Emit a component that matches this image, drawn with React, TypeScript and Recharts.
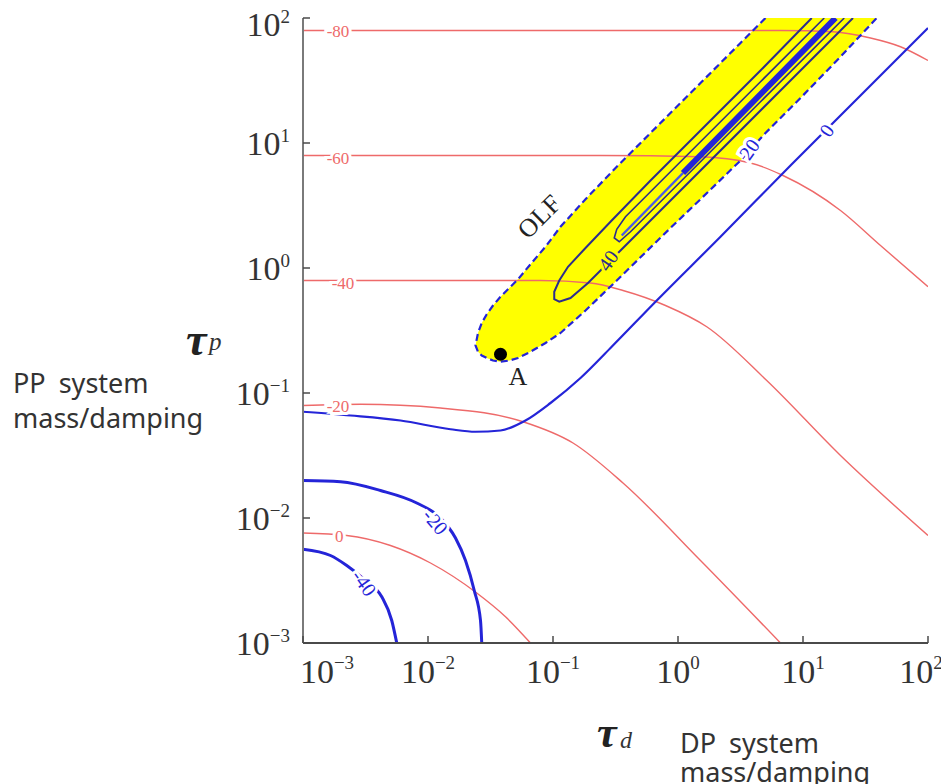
import React from 'react';
import { ComposedChart, XAxis, YAxis, Line, Area, Scatter } from 'recharts';

type Pt = [number, number];

// all values are log10(tau)
const decades = [-3, -2, -1, 0, 1, 2];

// red contours (dB), [log10 td, log10 tp]
const red0: Pt[] = [[-3, -2.12], [-2.65, -2.14], [-2.3, -2.22], [-1.98, -2.36], [-1.61, -2.6], [-1.38, -2.79], [-1.18, -3]];
const redM20: Pt[] = [[-3, -1.1], [-2.54, -1.09], [-1.9, -1.12], [-1.24, -1.23], [-0.84, -1.4], [-0.44, -1.72], [0.18, -2.34], [0.82, -3]];
const redM40: Pt[] = [[-3, -0.1], [-1.1, -0.1], [-0.7, -0.12], [-0.44, -0.18], [-0.1, -0.3], [0.23, -0.47], [0.71, -0.9], [1.3, -1.5], [2, -2.14]];
const redM60: Pt[] = [[-3, 0.9], [-0.62, 0.9], [0.18, 0.89], [0.58, 0.84], [0.84, 0.74], [1.3, 0.46], [1.62, 0.18], [2, -0.15]];
const redM80: Pt[] = [[-3, 1.9], [0.82, 1.9], [1.24, 1.89], [1.54, 1.84], [1.78, 1.77], [2, 1.66]];

// blue contours
const blue0: Pt[] = [[-3, -1.15], [-2.62, -1.18], [-2.22, -1.22], [-1.82, -1.29], [-1.62, -1.31], [-1.42, -1.3], [-1.22, -1.22], [-1.02, -1.08], [-0.78, -0.88], [-0.54, -0.64], [-0.17, -0.26], [0.34, 0.25], [0.9, 0.82], [1.46, 1.38], [2, 1.92]];
const blueM20: Pt[] = [[-3, -1.7], [-2.7, -1.71], [-2.38, -1.78], [-2.09, -1.88], [-1.9, -2.0], [-1.78, -2.16], [-1.7, -2.34], [-1.63, -2.58], [-1.58, -2.82], [-1.57, -3]];
const blueM40: Pt[] = [[-3, -2.25], [-2.78, -2.3], [-2.65, -2.38], [-2.5, -2.5], [-2.37, -2.63], [-2.29, -2.82], [-2.25, -3]];

// OLF region (yellow band), lower / upper edge per td
const olfX = [-1.62, -1.6, -1.57, -1.53, -1.48, -1.42, -1.35, -1.28, -1.18, -1.06, -0.94, -0.74, -0.49, -0.04, 0.18, 0.5, 0.7, 0.98, 1.3, 1.59];
const olfLow = [-0.62, -0.67, -0.7, -0.72, -0.74, -0.75, -0.74, -0.72, -0.67, -0.6, -0.52, -0.34, -0.1, 0.34, 0.55, 0.86, 1.08, 1.36, 1.69, 2.0];
const olfHigh = [-0.62, -0.52, -0.44, -0.37, -0.3, -0.23, -0.16, -0.09, 0.03, 0.17, 0.33, 0.55, 0.81, 1.26, 1.48, 1.8, 2.0, 2.0, 2.0, 2.0];

// contours inside the OLF band
const loop40: Pt[] = [[1.07, 2], [0.66, 1.58], [0.18, 1.1], [-0.22, 0.7], [-0.54, 0.37], [-0.74, 0.16], [-0.88, 0.01], [-0.95, -0.1], [-0.99, -0.19], [-0.99, -0.25], [-0.95, -0.27], [-0.86, -0.24], [-0.72, -0.12], [-0.46, 0.14], [0.18, 0.78], [0.82, 1.42], [1.4, 2]];
const loopInner: Pt[] = [[1.17, 2], [0.66, 1.49], [0.18, 1.01], [-0.22, 0.61], [-0.42, 0.41], [-0.49, 0.31], [-0.51, 0.24], [-0.47, 0.21], [-0.38, 0.29], [0.18, 0.85], [0.66, 1.33], [1.33, 2]];
const coreThin: Pt[] = [[-0.45, 0.26], [0.04, 0.76]];
const coreThick: Pt[] = [[0.04, 0.76], [0.66, 1.39], [1.26, 2]];

const pointA: Pt[] = [[-1.42, -0.69]];

// contour labels
const redLabels: [number, number, string][] = [[-2.72, 1.89, '-80'], [-2.72, 0.88, '-60'], [-2.68, -0.12, '-40'], [-2.72, -1.11, '-20'], [-2.71, -2.15, '0']];
const blueLabels: [number, number, string][] = [[1.19, 1.1, '0'], [0.57, 0.95, '20'], [-1.94, -2.03, '-20'], [-2.51, -2.52, '-40']];
const blueLabelAngles = [-55, -55, 50, 55];
const bandLabels: [number, number, string][] = [[-0.56, 0.06, '40']];
const textLabels: [number, number, string][] = [[-1.11, 0.41, 'OLF'], [-1.28, -0.87, 'A']];

const AXIS = '#4a4a4a';
const RED = '#ee6a6a';
const BLUE = '#2424d8';
const NAVY = '#2d2d8c';
const YELLOW = '#ffff00';
const SERIF = '"Liberation Serif", "DejaVu Serif", serif';
const SANS = '"Noto Sans", "Open Sans", sans-serif';

const xy = (pts: Pt[]) => pts.map(([x, y]) => ({ x, y }));
const lbl = (pts: [number, number, string][]) => pts.map(([x, y, text], i) => ({ x, y, text, i }));

const bandData = olfX.map((x, i) => ({ x, range: [olfLow[i], olfHigh[i]] }));
const olfOutline = [
  ...olfX
    .map((x, i) => ({ x, y: olfHigh[i] }))
    .filter((_, i) => i === 0 || olfHigh[i - 1] < 2)
    .reverse(),
  ...olfX.map((x, i) => ({ x, y: olfLow[i] })).slice(1),
];

const sup = (e: number) => (e < 0 ? '\u2212' + Math.abs(e) : String(e));

function BottomTick(props: any) {
  const { x, y, payload } = props;
  const e = payload.value as number;
  const shift = e === -3 ? 24 : e === 2 ? -7 : 0;
  return (
    <g>
      <line x1={x} x2={x} y1={y} y2={y - 7} stroke={AXIS} strokeWidth={1.5} />
      <text x={x + shift} y={y + 40} textAnchor="middle" fontFamily={SERIF} fontSize={34} fill="#333">
        10<tspan dy={-14} fontSize={19}>{sup(e)}</tspan>
      </text>
    </g>
  );
}

function LeftTick(props: any) {
  const { x, y, payload } = props;
  const e = payload.value as number;
  return (
    <g>
      <line x1={x} x2={x + 7} y1={y} y2={y} stroke={AXIS} strokeWidth={1.5} />
      <text x={x - 13} y={y + (e === 2 ? 18 : 12)} textAnchor="end" fontFamily={SERIF} fontSize={34} fill="#333">
        10<tspan dy={-13} fontSize={19}>{sup(e)}</tspan>
      </text>
    </g>
  );
}

const TopTick = (props: any) => (
  <line x1={props.x} x2={props.x} y1={props.y} y2={props.y + 7} stroke={AXIS} strokeWidth={1.5} />
);
const RightTick = (props: any) => (
  <line x1={props.x} x2={props.x - 7} y1={props.y} y2={props.y} stroke={AXIS} strokeWidth={1.5} />
);

const textShape = (color: string, size: number, halo: string | null, angles?: number[]) => (p: any) => {
  const a = angles ? angles[p.payload.i] : 0;
  return (
    <text
      x={p.cx}
      y={p.cy}
      textAnchor="middle"
      dominantBaseline="central"
      transform={`rotate(${a} ${p.cx} ${p.cy})`}
      fontFamily={SERIF}
      fontSize={size}
      fill={color}
      stroke={halo ?? 'none'}
      strokeWidth={halo ? 6 : 0}
      paintOrder="stroke"
    >
      {p.payload.text}
    </text>
  );
};

const lineProps = { dot: false, activeDot: false, isAnimationActive: false, legendType: 'none' as const };

export default function App() {
  return (
    <div style={{ position: 'relative', width: 941, height: 776 }}>
      <ComposedChart width={941} height={776} data={bandData} margin={{ top: 10, right: 21, bottom: 81, left: 0 }}>
        <XAxis
          type="number"
          dataKey="x"
          domain={[-3, 2]}
          ticks={decades}
          interval={0}
          allowDataOverflow
          height={60}
          tickLine={false}
          tickSize={0}
          tickMargin={0}
          axisLine={{ stroke: AXIS, strokeWidth: 2 }}
          tick={<BottomTick />}
        />
        <XAxis
          xAxisId="top"
          orientation="top"
          type="number"
          dataKey="x"
          domain={[-3, 2]}
          ticks={decades}
          interval={0}
          allowDataOverflow
          height={0}
          tickLine={false}
          tickSize={0}
          tickMargin={0}
          axisLine={{ stroke: AXIS, strokeWidth: 2 }}
          tick={<TopTick />}
        />
        <YAxis
          type="number"
          dataKey="y"
          domain={[-3, 2]}
          ticks={decades}
          interval={0}
          allowDataOverflow
          width={295}
          tickLine={false}
          tickSize={0}
          tickMargin={0}
          axisLine={{ stroke: '#7a7a7a', strokeWidth: 2 }}
          tick={<LeftTick />}
        />
        <YAxis
          yAxisId="right"
          orientation="right"
          type="number"
          dataKey="y"
          domain={[-3, 2]}
          ticks={decades}
          interval={0}
          allowDataOverflow
          width={0}
          tickLine={false}
          tickSize={0}
          tickMargin={0}
          axisLine={{ stroke: AXIS, strokeWidth: 2 }}
          tick={<RightTick />}
        />

        <Area type="linear" dataKey="range" fill={YELLOW} fillOpacity={1} stroke="none" dot={false} activeDot={false} isAnimationActive={false} />

        <Line data={xy(red0)} dataKey="y" type="monotone" stroke={RED} strokeWidth={1.4} {...lineProps} />
        <Line data={xy(redM20)} dataKey="y" type="monotone" stroke={RED} strokeWidth={1.4} {...lineProps} />
        <Line data={xy(redM40)} dataKey="y" type="monotone" stroke={RED} strokeWidth={1.4} {...lineProps} />
        <Line data={xy(redM60)} dataKey="y" type="monotone" stroke={RED} strokeWidth={1.4} {...lineProps} />
        <Line data={xy(redM80)} dataKey="y" type="monotone" stroke={RED} strokeWidth={1.4} {...lineProps} />

        <Line data={xy(loop40)} dataKey="y" type="linear" stroke={NAVY} strokeWidth={2} {...lineProps} />
        <Line data={xy(loopInner)} dataKey="y" type="linear" stroke={NAVY} strokeWidth={1.6} {...lineProps} />
        <Line data={xy(coreThin)} dataKey="y" type="linear" stroke="#4a5ae8" strokeWidth={2.5} {...lineProps} />
        <Line data={xy(coreThick)} dataKey="y" type="linear" stroke={BLUE} strokeWidth={6} {...lineProps} />
        <Line data={olfOutline} dataKey="y" type="linear" stroke={BLUE} strokeWidth={2.2} strokeDasharray="7 4" {...lineProps} />

        <Line data={xy(blue0)} dataKey="y" type="monotone" stroke={BLUE} strokeWidth={2.2} {...lineProps} />
        <Line data={xy(blueM20)} dataKey="y" type="monotone" stroke={BLUE} strokeWidth={3} {...lineProps} />
        <Line data={xy(blueM40)} dataKey="y" type="monotone" stroke={BLUE} strokeWidth={3} {...lineProps} />

        <Scatter data={lbl(redLabels)} dataKey="y" isAnimationActive={false} shape={textShape(RED, 17, '#ffffff')} />
        <Scatter data={lbl(blueLabels)} dataKey="y" isAnimationActive={false} shape={textShape(BLUE, 20, '#ffffff', blueLabelAngles)} />
        <Scatter data={lbl(bandLabels)} dataKey="y" isAnimationActive={false} shape={textShape(NAVY, 20, YELLOW, [-55])} />
        <Scatter data={lbl(textLabels)} dataKey="y" isAnimationActive={false} shape={textShape('#222', 26, null, [-45, 0])} />
        <Scatter
          data={xy(pointA)}
          dataKey="y"
          isAnimationActive={false}
          shape={(p: any) => <circle cx={p.cx} cy={p.cy} r={6.5} fill="#000" />}
        />
      </ComposedChart>

      <svg width={941} height={776} style={{ position: 'absolute', left: 0, top: 0, pointerEvents: 'none' }}>
        <text x={178} y={347} fontFamily={SERIF} fontStyle="italic" fontWeight="bold" fontSize={46} fill="#222">τ</text>
        <text x={201} y={342} fontFamily={SERIF} fontStyle="italic" fontSize={25} fill="#333">p</text>
        <text x={5} y={385} fontFamily={SANS} fontSize={27} fill="#333" wordSpacing={6}>PP system</text>
        <text x={5} y={420} fontFamily={SANS} fontSize={27} fill="#333">mass/damping</text>
        <text x={589} y={739} fontFamily={SERIF} fontStyle="italic" fontWeight="bold" fontSize={44} fill="#222">τ</text>
        <text x={612} y={740} fontFamily={SERIF} fontStyle="italic" fontSize={24} fill="#333">d</text>
        <text x={672} y={745} fontFamily={SANS} fontSize={27} fill="#333" wordSpacing={6}>DP system</text>
        <text x={672} y={774} fontFamily={SANS} fontSize={27} fill="#333">mass/damping</text>
      </svg>
    </div>
  );
}
